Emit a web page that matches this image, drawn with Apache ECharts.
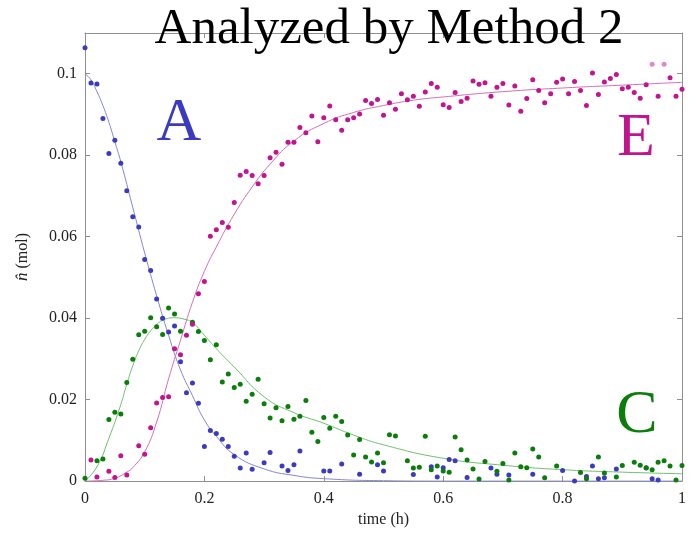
<!DOCTYPE html>
<html>
<head>
<meta charset="utf-8">
<script src="https://cdn.jsdelivr.net/npm/echarts@6/dist/echarts.min.js"></script>
<style>
  html, body { margin: 0; padding: 0; background: #fff; }
  #chart { width: 691px; height: 533px; }
</style>
</head>
<body>
<div id="chart"></div>
<script>
// measured points, [time (h), n (mol)]
const pointsA = [
  [0, 0.1064], [0.01, 0.0977], [0.02, 0.0975], [0.03, 0.089], [0.04, 0.0804], [0.05, 0.0837],
  [0.06, 0.078], [0.07, 0.0713], [0.08, 0.0649], [0.09, 0.0624], [0.1, 0.0544], [0.11, 0.0517],
  [0.12, 0.0447], [0.13, 0.04], [0.14, 0.0366], [0.15, 0.0381], [0.16, 0.0293], [0.17, 0.0217],
  [0.18, 0.0241], [0.19, 0.0191], [0.2, 0.0085], [0.21, 0.0124], [0.22, 0.0117], [0.23, 0.0103],
  [0.24, 0.0085], [0.25, 0.0061], [0.26, 0.0032], [0.27, 0.0069], [0.28, 0.0029], [0.3, 0.0045],
  [0.31, 0.007], [0.33, 0.0037], [0.34, 0.0026], [0.35, 0.004], [0.36, 0.0074], [0.4, 0.0025],
  [0.41, 0.0025], [0.43, 0.0042], [0.46, 0.0017], [0.49, 0.004], [0.5, 0.0025], [0.55, 0.0016],
  [0.58, 0.0035], [0.59, 0.001], [0.6, 0.0033], [0.61, 0.0053], [0.62, 0.005], [0.64, 0.0009],
  [0.68, 0.0032], [0.69, 0.0017], [0.71, 0.0015], [0.75, 0.0017], [0.8, 0.0026], [0.82, 0.0],
  [0.84, 0.0011], [0.85, 0.0037], [0.86, 0.0006], [0.87, 0.0008], [0.89, 0.003], [0.94, 0.0032],
  [0.95, 0.0006], [0.96, 0.0003]
]
const pointsC = [
  [0, 0.0007], [0.02, 0.005], [0.03, 0.0054], [0.04, 0.0151], [0.05, 0.0169], [0.06, 0.0165],
  [0.07, 0.0242], [0.08, 0.0299], [0.09, 0.0359], [0.1, 0.0368], [0.11, 0.0401], [0.12, 0.0379],
  [0.13, 0.036], [0.14, 0.0425], [0.15, 0.041], [0.16, 0.0368], [0.18, 0.039], [0.19, 0.0367],
  [0.2, 0.0345], [0.21, 0.0298], [0.22, 0.0335], [0.23, 0.0243], [0.24, 0.0263], [0.25, 0.023],
  [0.26, 0.0238], [0.27, 0.0196], [0.28, 0.0213], [0.29, 0.025], [0.3, 0.019], [0.31, 0.0155],
  [0.32, 0.018], [0.33, 0.0148], [0.34, 0.0183], [0.35, 0.0152], [0.36, 0.0159], [0.37, 0.0198],
  [0.38, 0.012], [0.39, 0.0097], [0.4, 0.0156], [0.41, 0.013], [0.42, 0.0159], [0.43, 0.0146],
  [0.44, 0.0113], [0.45, 0.0064], [0.46, 0.0102], [0.47, 0.0059], [0.48, 0.0047], [0.49, 0.0069],
  [0.5, 0.0045], [0.51, 0.0114], [0.52, 0.0111], [0.54, 0.005], [0.55, 0.0032], [0.56, 0.0034],
  [0.57, 0.011], [0.58, 0.0028], [0.59, 0.0037], [0.6, 0.0025], [0.61, 0.0022], [0.62, 0.0108],
  [0.63, 0.0077], [0.64, 0.0052], [0.65, 0.003], [0.66, 0.0005], [0.67, 0.0048], [0.69, 0.0024],
  [0.7, 0.0043], [0.71, 0.0003], [0.72, 0.0069], [0.73, 0.0035], [0.74, 0.0033], [0.75, 0.0079],
  [0.76, 0.0059], [0.77, 0.0008], [0.79, 0.0037], [0.83, 0.0021], [0.84, 0.0006], [0.86, 0.0059],
  [0.87, 0.002], [0.89, 0.001], [0.9, 0.0038], [0.92, 0.0046], [0.93, 0.0039], [0.94, 0.0033],
  [0.95, 0.0028], [0.96, 0.0046], [0.97, 0.005], [0.98, 0.0037], [0.99, 0.0003], [1, 0.0038]
]
const pointsE = [
  [0.01, 0.0052], [0.02, 0.001], [0.04, 0.0024], [0.05, 0.0009], [0.06, 0.0062], [0.07, 0.0015],
  [0.09, 0.0087], [0.1, 0.0066], [0.11, 0.0131], [0.12, 0.0192], [0.13, 0.0205], [0.14, 0.0207],
  [0.15, 0.0325], [0.16, 0.031], [0.17, 0.0358], [0.18, 0.0385], [0.19, 0.046], [0.2, 0.049],
  [0.21, 0.0601], [0.22, 0.0617], [0.23, 0.0635], [0.24, 0.0623], [0.25, 0.0684], [0.26, 0.0751],
  [0.27, 0.076], [0.28, 0.075], [0.29, 0.073], [0.3, 0.075], [0.31, 0.0794], [0.32, 0.0807],
  [0.33, 0.0778], [0.34, 0.0832], [0.35, 0.0832], [0.36, 0.0868], [0.37, 0.0855], [0.38, 0.0896],
  [0.39, 0.0833], [0.4, 0.0892], [0.41, 0.0921], [0.42, 0.0887], [0.43, 0.0861], [0.44, 0.0887],
  [0.45, 0.0892], [0.46, 0.0901], [0.47, 0.0934], [0.48, 0.0927], [0.49, 0.0937], [0.5, 0.0898],
  [0.51, 0.0929], [0.52, 0.0913], [0.53, 0.0951], [0.54, 0.0936], [0.55, 0.0945], [0.56, 0.092],
  [0.57, 0.0955], [0.58, 0.0976], [0.59, 0.0967], [0.6, 0.0924], [0.61, 0.0917], [0.62, 0.0954],
  [0.63, 0.0932], [0.64, 0.094], [0.65, 0.0982], [0.66, 0.0974], [0.67, 0.0978], [0.68, 0.0945],
  [0.69, 0.0967], [0.7, 0.0976], [0.71, 0.0923], [0.72, 0.097], [0.73, 0.0908], [0.74, 0.0939],
  [0.75, 0.0985], [0.76, 0.0959], [0.77, 0.0929], [0.78, 0.0951], [0.79, 0.0979], [0.8, 0.0987],
  [0.81, 0.0951], [0.82, 0.0981], [0.83, 0.0959], [0.84, 0.0922], [0.85, 0.1002], [0.86, 0.0949],
  [0.87, 0.098], [0.88, 0.0988], [0.89, 0.0998], [0.9, 0.0963], [0.91, 0.0967], [0.92, 0.0954],
  [0.93, 0.094], [0.94, 0.0973], [0.95, 0.1023], [0.96, 0.0945], [0.97, 0.1023], [0.98, 0.099],
  [0.99, 0.0945], [1, 0.0962]
]
// these two E points are drawn paler in the original
const fadedE = [0.95, 0.97]

// fitted curves
const fitA = [
  [0, 0.1], [0.01, 0.0985], [0.02, 0.0956], [0.03, 0.0922], [0.04, 0.0881], [0.05, 0.0833],
  [0.06, 0.0784], [0.08, 0.0672], [0.1, 0.056], [0.12, 0.0455], [0.14, 0.0358], [0.16, 0.0273],
  [0.18, 0.021], [0.2, 0.015], [0.22, 0.011], [0.25, 0.0065], [0.3, 0.003], [0.35, 0.0014],
  [0.4, 0.0006], [0.5, 0.0001], [0.6, 0], [1, 0]
]
const fitC = [
  [0, 0], [0.02, 0.0035], [0.04, 0.0105], [0.06, 0.0188], [0.07, 0.0238], [0.08, 0.0283],
  [0.09, 0.032], [0.1, 0.0348], [0.11, 0.0369], [0.12, 0.0384], [0.13, 0.0395], [0.15, 0.0401],
  [0.17, 0.0396], [0.18, 0.039], [0.2, 0.0358], [0.22, 0.0325], [0.25, 0.028], [0.3, 0.0207],
  [0.35, 0.0168], [0.4, 0.0142], [0.45, 0.0113], [0.5, 0.0089], [0.6, 0.0056], [0.7, 0.0039],
  [0.8, 0.0028], [0.9, 0.0022], [1, 0.0018]
]
const fitE = [
  [0, 0], [0.03, 0.0002], [0.05, 0.0007], [0.07, 0.0022], [0.08, 0.0033], [0.1, 0.0072],
  [0.12, 0.0145], [0.14, 0.0251], [0.16, 0.0346], [0.18, 0.0439], [0.2, 0.0515], [0.22, 0.0575],
  [0.25, 0.0655], [0.28, 0.0722], [0.31, 0.0778], [0.35, 0.0835], [0.4, 0.0878], [0.45, 0.0905],
  [0.5, 0.0922], [0.55, 0.0935], [0.6, 0.0943], [0.7, 0.0956], [0.8, 0.0965], [0.9, 0.0972],
  [1, 0.0979]
]

const colA = '#3b3bbf'
const colC = '#0a7d0a'
const colE = '#c2148e'
const serif = 'Liberation Serif'

const chart = echarts.init(document.getElementById('chart'))

const axisLine = { show: true, onZero: false, lineStyle: { color: '#8f8f8f', width: 1 } }
const axisTick = { show: true, inside: true, length: 5, lineStyle: { color: '#8f8f8f' } }
const label = { color: '#222', fontFamily: serif, fontSize: 16 }

function scatter (name, data, color) {
  return {
    name, type: 'scatter', data, symbolSize: 5,
    itemStyle: { color, opacity: 1 }, z: 3
  }
}
function fit (data, color) {
  return {
    type: 'line', data, smooth: true, showSymbol: false, symbol: 'none',
    lineStyle: { color, width: 1 }, z: 2, silent: true
  }
}

const dataE = pointsE.map(p => fadedE.includes(p[0])
  ? { value: p, itemStyle: { opacity: 0.5 } }
  : p)

const option = {
  backgroundColor: '#fff',
  animation: false,
  grid: { left: 85, right: 9, top: 33, bottom: 50 },
  xAxis: [
    {
      type: 'value', min: 0, max: 1, interval: 0.2,
      name: 'time (h)', nameLocation: 'middle', nameGap: 29,
      nameTextStyle: { color: '#222', fontFamily: serif, fontSize: 16 },
      axisLine, axisTick, splitLine: { show: false },
      axisLabel: { ...label, margin: 10 }
    },
    {
      type: 'value', position: 'top', min: 0, max: 1, interval: 0.2,
      axisLine, axisTick, splitLine: { show: false }, axisLabel: { show: false }
    }
  ],
  yAxis: [
    {
      type: 'value', min: 0, max: 0.11, interval: 0.02,
      name: '{it|n̂} (mol)', nameLocation: 'middle', nameGap: 54,
      nameTextStyle: {
        color: '#222', fontFamily: serif, fontSize: 16,
        rich: { it: { fontStyle: 'italic', fontFamily: serif, fontSize: 17, color: '#222' } }
      },
      axisLine, axisTick, splitLine: { show: false },
      axisLabel: { ...label, margin: 8, showMaxLabel: false }
    },
    {
      type: 'value', position: 'right', min: 0, max: 0.11, interval: 0.02,
      axisLine, axisTick, splitLine: { show: false }, axisLabel: { show: false }
    }
  ],
  series: [
    fit(fitA, '#8585d8'),
    fit(fitC, '#6fbf6f'),
    fit(fitE, '#d56fb6'),
    scatter('A', pointsA, colA),
    scatter('C', pointsC, colC),
    scatter('E', dataE, colE)
  ],
  graphic: [
    {
      type: 'text', z: 10,
      style: { x: 389, y: 30, text: 'Analyzed by Method 2', textAlign: 'center', textVerticalAlign: 'middle',
        fontFamily: serif, fontSize: 51, fill: '#000' }
    },
    {
      type: 'text', z: 10,
      style: { x: 179, y: 124, text: 'A', textAlign: 'center', textVerticalAlign: 'middle',
        fontFamily: serif, fontSize: 62, fill: colA }
    },
    {
      type: 'text', z: 10,
      style: { x: 636, y: 139, text: 'E', textAlign: 'center', textVerticalAlign: 'middle',
        fontFamily: serif, fontSize: 62, fill: colE }
    },
    {
      type: 'text', z: 10,
      style: { x: 637, y: 416, text: 'C', textAlign: 'center', textVerticalAlign: 'middle',
        fontFamily: serif, fontSize: 62, fill: colC }
    }
  ]
}

chart.setOption(option)
</script>
</body>
</html>
